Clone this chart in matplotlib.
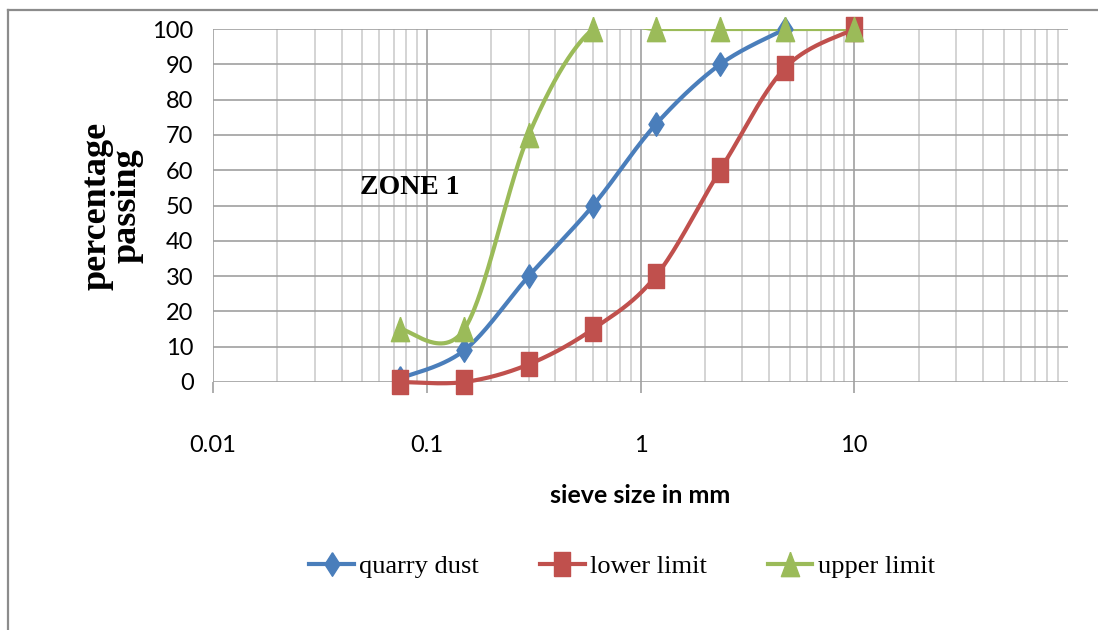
import numpy as np
import matplotlib
matplotlib.use("Agg")
import matplotlib.pyplot as plt
from matplotlib.lines import Line2D
from matplotlib.patches import Rectangle
from matplotlib.ticker import FixedLocator, LogLocator, NullFormatter

# sieve analysis data
sieve_mm = [0.075, 0.15, 0.3, 0.6, 1.18, 2.36, 4.75, 10]
quarry_dust = [1, 9, 30, 50, 73, 90, 100]          # up to 4.75 mm
lower_limit = [0, 0, 5, 15, 30, 60, 89, 100]
upper_limit = [15, 15, 70, 100, 100, 100, 100, 100]

x_ticks = [0.01, 0.1, 1, 10]
x_tick_labels = ["0.01", "0.1", "1", "10"]
y_ticks = [0, 10, 20, 30, 40, 50, 60, 70, 80, 90, 100]

BLUE = "#4a7ebb"
RED = "#c0504d"
GREEN = "#9bbb59"

SANS = ["Lato", "DejaVu Sans"]
SERIF = ["Liberation Serif", "DejaVu Serif"]

# tall marker shapes
diamond = [(0, 1), (0.64, 0), (0, -1), (-0.64, 0), (0, 1)]
square = [(-0.7, -1), (0.7, -1), (0.7, 1), (-0.7, 1), (-0.7, -1)]
triangle = [(0, 1), (0.75, -1), (-0.75, -1), (0, 1)]

fig = plt.figure(figsize=(10.98, 6.3), dpi=100)
ax = fig.add_axes([213 / 1098, 1 - 382 / 630, (1068 - 213) / 1098, (382 - 29) / 630])

ax.set_xscale("log")
ax.set_xlim(0.01, 100)
ax.set_ylim(0, 100)


def smooth(xs, ys, n=60):
    # Catmull-Rom style bezier smoothing done in display space
    pts = ax.transData.transform(np.column_stack([xs, ys]))
    out = []
    m = len(pts)
    for i in range(m - 1):
        p0 = pts[max(i - 1, 0)]
        p1 = pts[i]
        p2 = pts[i + 1]
        p3 = pts[min(i + 2, m - 1)]
        c1 = p1 + (p2 - p0) / 6
        c2 = p2 - (p3 - p1) / 6
        t = np.linspace(0, 1, n)[:, None]
        seg = ((1 - t) ** 3) * p1 + 3 * ((1 - t) ** 2) * t * c1 + 3 * (1 - t) * t ** 2 * c2 + t ** 3 * p2
        out.append(seg if i == 0 else seg[1:])
    out = np.vstack(out)
    data = ax.transData.inverted().transform(out)
    return data[:, 0], data[:, 1]


series = [
    ("quarry dust", sieve_mm[:len(quarry_dust)], quarry_dust, BLUE, diamond, 17),
    ("lower limit", sieve_mm, lower_limit, RED, square, 17),
    ("upper limit", sieve_mm, upper_limit, GREEN, triangle, 17.5),
]

handles = []
for label, xs, ys, color, marker, ms in series:
    sx, sy = smooth(xs, ys)
    # the plot area cuts the curve off where it bulges above 100 %
    sy = np.where(sy > 100.6, np.nan, sy)
    ln, = ax.plot(sx, sy, color=color, lw=3, solid_capstyle="butt", zorder=3)
    ln.set_clip_path(Rectangle((0.01, -3), 100, 103, transform=ax.transData))
    ax.plot(xs, ys, ls="none", marker=marker, ms=ms, color=color, mec=color,
            clip_on=False, zorder=4)
    handles.append(Line2D([], [], color=color, lw=3, marker=marker, ms=ms, mec=color,
                          label=label))

# grid
ax.xaxis.set_major_locator(FixedLocator(x_ticks))
ax.set_xticklabels(x_tick_labels)
ax.xaxis.set_minor_locator(LogLocator(base=10, subs=np.arange(2, 10)))
ax.xaxis.set_minor_formatter(NullFormatter())
ax.set_yticks(y_ticks)
ax.grid(True, which="major", axis="both", color="#a0a0a0", lw=1.2, zorder=0)
ax.grid(True, which="minor", axis="x", color="#cdcdcd", lw=1.2, zorder=0)
ax.set_axisbelow(True)
for s in ax.spines.values():
    s.set_visible(False)

ax.tick_params(axis="x", which="major", length=8, width=1.2, color="#a0a0a0", pad=30,
               labelsize=17)
ax.tick_params(axis="x", which="minor", length=0)
ax.tick_params(axis="y", length=0, pad=14, labelsize=17)
for t in ax.get_xticklabels() + ax.get_yticklabels():
    t.set_family(SANS)

ax.set_xlabel("sieve size in mm", fontsize=18, fontweight="bold", family=SANS, labelpad=20)
fig.text(112 / 1098, 1 - 206 / 630, "percentage\npassing", rotation=90, fontsize=26,
         fontweight="bold", family=SERIF, ha="center", va="center", linespacing=0.92)

ax.text(0.0486, 55, "ZONE 1", fontsize=20, fontweight="bold", family=SERIF,
        ha="left", va="center", zorder=5)

fig.legend(handles=handles, loc="center", bbox_to_anchor=(622 / 1098, 1 - 566 / 630),
           ncol=3, frameon=False, prop={"family": SERIF, "size": 19},
           handlelength=1.7, handletextpad=0.2, columnspacing=2.3)

# outer chart border
fig.add_artist(Line2D([8 / 1098, 8 / 1098], [0, 1 - 10 / 630], color="#8c8c8c", lw=1.6))
fig.add_artist(Line2D([8 / 1098, 1], [1 - 10 / 630, 1 - 10 / 630], color="#8c8c8c", lw=1.6))

fig.savefig("out.png", dpi=100)
